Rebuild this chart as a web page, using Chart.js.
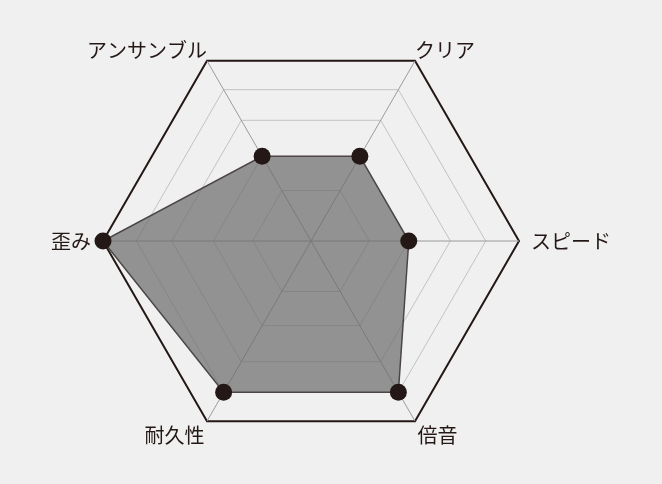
<!DOCTYPE html>
<html lang="ja">
<head>
<meta charset="utf-8">
<title>レーダーチャート</title>
<script src="https://cdn.jsdelivr.net/npm/chart.js@4.4.1/dist/chart.umd.min.js"></script>
<style>
  html, body { margin: 0; padding: 0; background: #f0f0f0; }
  #wrap { width: 662px; height: 484px; }
</style>
</head>
<body>
<div id="wrap"><canvas id="radarChart"></canvas></div>
<script>
// Axes, clockwise from the top-right corner
const labels = ['クリア', 'スピード', '倍音', '耐久性', '歪み', 'アンサンブル']
// Values on a 0-100 scale
const values = [47, 47, 84, 84, 100, 47]
// Rings as drawn in the picture (not evenly spaced)
const ringValues = [0, 28, 47, 67, 84, 100]

const ink = '#231815'

new Chart(document.getElementById('radarChart'), {
  type: 'radar',
  data: {
    labels: labels,
    datasets: [{
      data: values,
      backgroundColor: 'rgba(107, 107, 107, 0.71)',
      borderColor: '#4d4646',
      borderWidth: 1.5,
      pointBackgroundColor: ink,
      pointBorderColor: ink,
      pointBorderWidth: 0,
      pointRadius: 8.5,
      fill: true
    }]
  },
  options: {
    responsive: true,
    maintainAspectRatio: false,
    animation: false,
    layout: {
      padding: { top: 33, bottom: 35, left: 0, right: 40 }
    },
    plugins: {
      legend: { display: false },
      tooltip: { enabled: false }
    },
    scales: {
      r: {
        min: 0,
        max: 100,
        startAngle: 30,
        afterBuildTicks: (scale) => {
          scale.ticks = ringValues.map(v => ({ value: v }))
        },
        ticks: { display: false },
        angleLines: {
          color: '#9a9a9a',
          lineWidth: 1
        },
        grid: {
          color: (ctx) => ctx.index === ringValues.length - 1 ? ink : '#c2c2c2',
          lineWidth: (ctx) => ctx.index === ringValues.length - 1 ? 2 : 1
        },
        pointLabels: {
          color: ink,
          font: { family: '"Noto Sans CJK JP", "Noto Sans", sans-serif', size: 20, lineHeight: 1 },
          padding: (ctx) => {
            // sides sit further out, top ones hug the corner
            if (ctx.index === 1 || ctx.index === 4) return 12
            if (ctx.index === 2 || ctx.index === 3) return 5
            return 0
          }
        }
      }
    }
  }
})
</script>
</body>
</html>
